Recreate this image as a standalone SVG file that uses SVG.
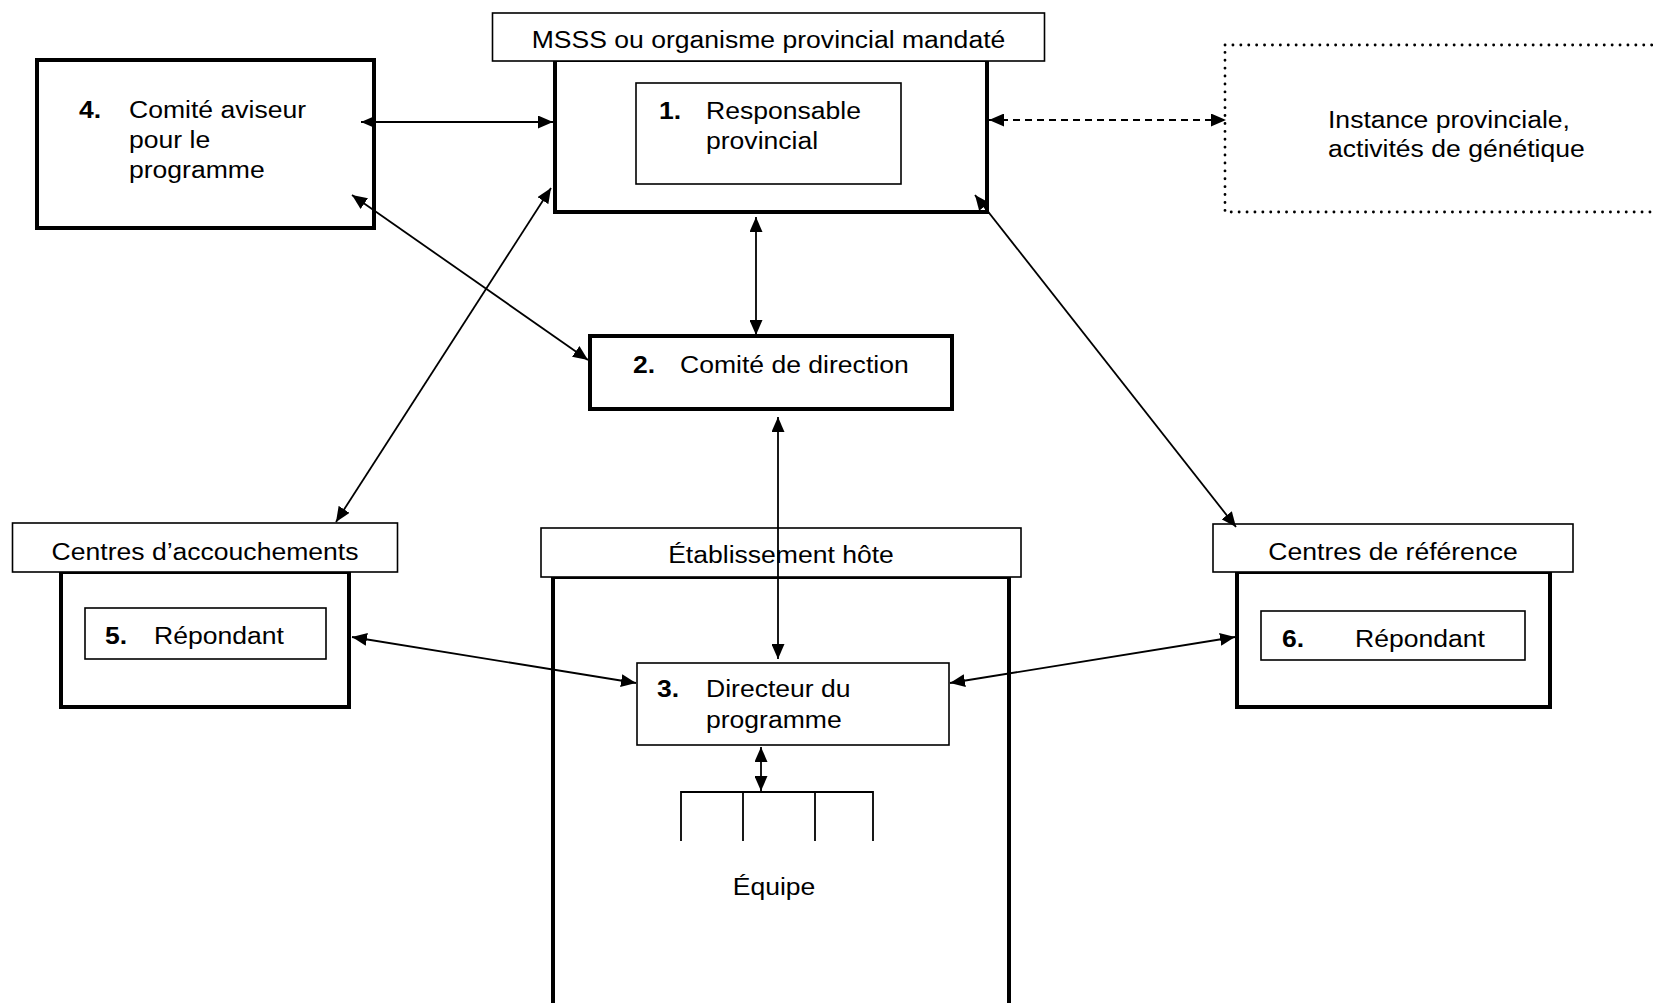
<svg xmlns="http://www.w3.org/2000/svg" width="1653" height="1003" viewBox="0 0 1653 1003">
  <style>
    .thick { fill: #fff; stroke: #000; stroke-width: 4; }
    .thin { fill: #fff; stroke: #000; stroke-width: 1.6; }
    .dotted { fill: none; stroke: #000; stroke-width: 2.8; stroke-dasharray: 0.1 7.8; stroke-linecap: round; }
    .lbl { font-family: "Liberation Sans", Arial, sans-serif; font-size: 23.5px; fill: #000; }
    .num { font-weight: bold; }
    .mid { text-anchor: middle; }
    .link { fill: none; stroke: #000; stroke-width: 1.8; marker-start: url(#head); marker-end: url(#head); }
    .dash { stroke-dasharray: 7 5; }
    .bracket { fill: none; stroke: #000; stroke-width: 1.8; }
  </style>
  <defs>
    <marker id="head" viewBox="0 0 15 13" refX="15" refY="6.5" markerWidth="15" markerHeight="13" markerUnits="userSpaceOnUse" orient="auto-start-reverse">
      <path d="M0,0 L15,6.5 L0,13 Z" fill="#000"/>
    </marker>
  </defs>
  <rect width="1653" height="1003" fill="#fff"/>

  <!-- 4. Comité aviseur -->
  <g id="node-4">
    <rect class="thick" x="37" y="60" width="337" height="168"/>
    <text class="lbl num" transform="translate(79 118) scale(1.13 1)">4.</text>
    <text class="lbl" transform="translate(129 118) scale(1.13 1)">Comité aviseur</text>
    <text class="lbl" transform="translate(129 148) scale(1.13 1)">pour le</text>
    <text class="lbl" transform="translate(129 178) scale(1.13 1)">programme</text>
  </g>

  <!-- MSSS container -->
  <g id="node-msss">
    <rect class="thick" x="555" y="60" width="432" height="152"/>
    <rect class="thin" x="492.5" y="13" width="552" height="48"/>
    <text class="lbl mid" transform="translate(768.5 48) scale(1.13 1)">MSSS ou organisme provincial mandaté</text>
  </g>

  <!-- 1. Responsable provincial -->
  <g id="node-1">
    <rect class="thin" x="636" y="83" width="265" height="101"/>
    <text class="lbl num" transform="translate(659 119) scale(1.13 1)">1.</text>
    <text class="lbl" transform="translate(706 119) scale(1.13 1)">Responsable</text>
    <text class="lbl" transform="translate(706 149) scale(1.13 1)">provincial</text>
  </g>

  <!-- Instance provinciale -->
  <g id="node-instance">
    <rect class="dotted" x="1225" y="45" width="445" height="167"/>
    <text class="lbl" transform="translate(1328 128) scale(1.13 1)">Instance provinciale,</text>
    <text class="lbl" transform="translate(1328 157) scale(1.13 1)">activités de génétique</text>
  </g>

  <!-- 2. Comité de direction -->
  <g id="node-2">
    <rect class="thick" x="590" y="336" width="362" height="73"/>
    <text class="lbl num" transform="translate(633 373) scale(1.13 1)">2.</text>
    <text class="lbl" transform="translate(680 373) scale(1.13 1)">Comité de direction</text>
  </g>

  <!-- Centres d'accouchements container -->
  <g id="node-accouchements">
    <rect class="thick" x="61" y="572" width="288" height="135"/>
    <rect class="thin" x="12.5" y="523" width="385" height="49"/>
    <text class="lbl mid" transform="translate(205 560) scale(1.13 1)">Centres d’accouchements</text>
  </g>

  <!-- 5. Répondant -->
  <g id="node-5">
    <rect class="thin" x="85" y="608" width="241" height="51"/>
    <text class="lbl num" transform="translate(105 644) scale(1.13 1)">5.</text>
    <text class="lbl" transform="translate(154 644) scale(1.13 1)">Répondant</text>
  </g>

  <!-- Établissement hôte container -->
  <g id="node-etablissement">
    <rect class="thick" x="553" y="577" width="456" height="440"/>
    <rect class="thin" x="541" y="528" width="480" height="49"/>
    <text class="lbl mid" transform="translate(781 563) scale(1.13 1)">Établissement hôte</text>
  </g>

  <!-- 3. Directeur du programme -->
  <g id="node-3">
    <rect class="thin" x="637" y="663" width="312" height="82"/>
    <text class="lbl num" transform="translate(657 697) scale(1.13 1)">3.</text>
    <text class="lbl" transform="translate(706 697) scale(1.13 1)">Directeur du</text>
    <text class="lbl" transform="translate(706 728) scale(1.13 1)">programme</text>
  </g>

  <!-- Équipe -->
  <g id="node-equipe">
    <path class="bracket" d="M681,841 V792 H873 V841 M743,792 V841 M815,792 V841"/>
    <text class="lbl mid" transform="translate(774 895) scale(1.13 1)">Équipe</text>
  </g>

  <!-- Centres de référence container -->
  <g id="node-reference">
    <rect class="thick" x="1237" y="572" width="313" height="135"/>
    <rect class="thin" x="1213" y="524" width="360" height="48"/>
    <text class="lbl mid" transform="translate(1393 560) scale(1.13 1)">Centres de référence</text>
  </g>

  <!-- 6. Répondant -->
  <g id="node-6">
    <rect class="thin" x="1261" y="611" width="264" height="49"/>
    <text class="lbl num" transform="translate(1282 647) scale(1.13 1)">6.</text>
    <text class="lbl" transform="translate(1355 647) scale(1.13 1)">Répondant</text>
  </g>

  <!-- Connectors -->
  <g id="connectors">
    <line class="link" x1="361" y1="122" x2="553" y2="122"/>
    <line class="link" x1="352" y1="195" x2="588" y2="360"/>
    <line class="link" x1="756" y1="217" x2="756" y2="335"/>
    <line class="link" x1="551" y1="188" x2="336" y2="522"/>
    <line class="link" x1="975" y1="195" x2="1236" y2="527"/>
    <line class="link dash" x1="989" y1="120" x2="1226" y2="120"/>
    <line class="link" x1="778" y1="417" x2="778" y2="659"/>
    <line class="link" x1="352" y1="637" x2="636" y2="683"/>
    <line class="link" x1="950" y1="683" x2="1235" y2="637"/>
    <line class="link" x1="761" y1="747" x2="761" y2="791"/>
  </g>
</svg>
